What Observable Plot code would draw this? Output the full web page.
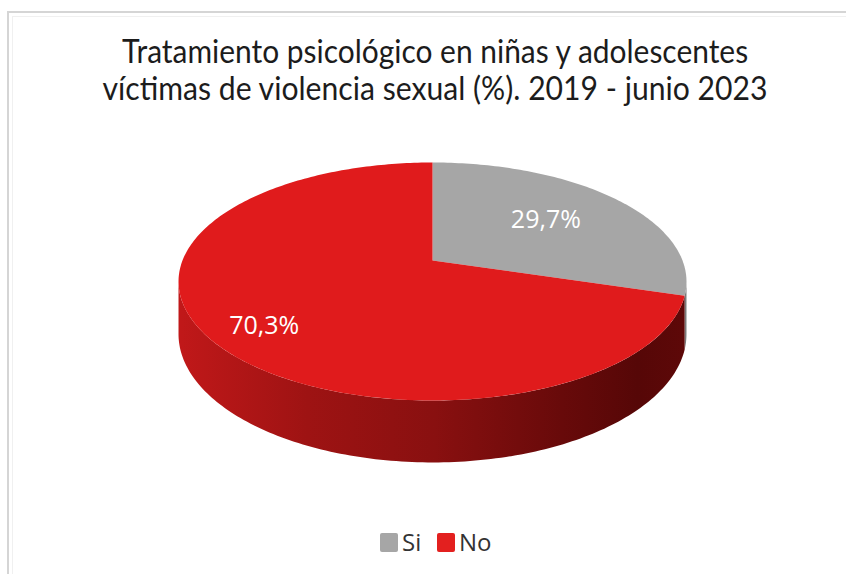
<!DOCTYPE html>
<html>
<head>
<meta charset="utf-8">
<script src="https://cdn.jsdelivr.net/npm/d3@7"></script>
<script src="https://cdn.jsdelivr.net/npm/@observablehq/plot@0.6"></script>
<style>
  html, body { margin: 0; padding: 0; background: #ffffff; width: 846px; height: 574px; overflow: hidden; }
  #frame { position: absolute; left: 7px; top: 11px; width: 900px; height: 700px;
           border-left: 2px solid #d5d5d5; border-top: 2px solid #d5d5d5; }
  #frame2 { position: absolute; left: 12px; top: 16px; width: 900px; height: 700px;
           border-left: 1px solid #f0f0f0; border-top: 1px solid #f0f0f0; }
  #title { position: absolute; left: 12px; top: 32px; width: 846px; text-align: center;
           font-family: Lato, "Open Sans", sans-serif; font-size: 33px; line-height: 37px; color: #1c1c1c; }
  #title span { display: inline-block; white-space: nowrap; transform-origin: center; }
  #chart { position: absolute; left: 0; top: 130px; }
  #legend { position: absolute; left: 0; top: 528px; width: 846px; height: 30px;
            font-family: "Open Sans", sans-serif; font-size: 24px; color: #333; }
  .item { position: absolute; top: 0; height: 30px; line-height: 30px; white-space: nowrap; }
  .sw { position: absolute; top: 5px; width: 18px; height: 19px; border-radius: 2px; }
  .lb { position: absolute; top: -1px; }
</style>
</head>
<body>
<div id="frame"></div>
<div id="frame2"></div>
<div id="title"><span id="t1">Tratamiento psicológico en niñas y adolescentes</span><br><span id="t2">víctimas de violencia sexual (%). 2019 - junio 2023</span></div>
<div id="chart"></div>
<div id="legend"></div>
<script>
// ---- data ----
const categories = ["Si", "No"];
const values = [29.7, 70.3];
const labels = ["29,7%", "70,3%"];
const topColors = ["#a6a6a6", "#e01b1c"];
const sideFills = ["#7a7a7a", "url(#sideRed)"];
const legendColors = ["#a6a6a6", "#e3201f"];

// ---- layout ----
const W = 846, H = 350, svgTop = 130;
const CX = 432, K = 250, A = -69.4, B = 260, C = 0.1765, DEPTH = 51;
const labelR = [0.6, 0.77];

function proj(angDeg, r, z) {
  const t = angDeg * Math.PI / 180;
  const u = r * Math.sin(t), v = r * Math.cos(t);
  const w = 1 + C * v;
  return {x: CX + K * u / w, y: (A * v + B) / w - svgTop + z * DEPTH / w};
}

const ext = Math.asin(C) * 180 / Math.PI;
const visA = 90 + ext, visB = 270 - ext;

// slices
let start = 0;
const slices = categories.map((c, i) => {
  const s = start, e = start + values[i] / 100 * 360;
  start = e;
  return {cat: c, s, e, i};
});

function arc(a1, a2, z) {
  const pts = [];
  const n = Math.max(2, Math.ceil(Math.abs(a2 - a1)));
  for (let k = 0; k <= n; k++) pts.push(proj(a1 + (a2 - a1) * k / n, 1, z));
  return pts;
}

const marks = [];
// side faces
slices.forEach(sl => {
  const a1 = Math.max(sl.s, visA), a2 = Math.min(sl.e, visB);
  if (a1 < a2) {
    const pts = arc(a1, a2, 0).concat(arc(a2, a1, 1));
    marks.push(Plot.line(pts, {x: "x", y: "y", fill: sideFills[sl.i], stroke: "none", curve: "linear"}));
  }
});
// top faces
slices.forEach(sl => {
  const pts = [proj(0, 0, 0)].concat(arc(sl.s, sl.e, 0));
  marks.push(Plot.line(pts, {x: "x", y: "y", fill: topColors[sl.i], stroke: "none", curve: "linear"}));
});
// labels
const labelRows = slices.map(sl => {
  const p = proj((sl.s + sl.e) / 2, labelR[sl.i], 0);
  return {x: p.x, y: p.y + (sl.i === 1 ? 8 : -2), text: labels[sl.i]};
});
marks.push(Plot.text(labelRows, {x: "x", y: "y", text: "text", fill: "white",
  fontSize: 25, fontFamily: "Open Sans, sans-serif", textAnchor: "middle"}));

const svg = Plot.plot({
  width: W, height: H, margin: 0,
  x: {domain: [0, W], range: [0, W], axis: null},
  y: {domain: [0, H], range: [0, H], axis: null},
  style: {background: "transparent", overflow: "visible"},
  marks
});

const defs = d3.select(svg).insert("defs", ":first-child");
const g = defs.append("linearGradient").attr("id", "sideRed")
  .attr("gradientUnits", "userSpaceOnUse")
  .attr("x1", 180).attr("x2", 688).attr("y1", 0).attr("y2", 0);
[[0, "#c01819"], [0.25, "#9e1313"], [0.5, "#891010"], [0.75, "#680a0a"], [0.9, "#560707"], [1, "#5e0808"]]
  .forEach(([o, c]) => g.append("stop").attr("offset", o).attr("stop-color", c));
document.getElementById("chart").appendChild(svg);

// legend
const leg = document.getElementById("legend");
const legX = [380, 437];
categories.forEach((c, i) => {
  const it = document.createElement("div");
  it.className = "item";
  it.style.left = legX[i] + "px";
  it.innerHTML = `<div class="sw" style="left:0;background:${legendColors[i]}"></div><span class="lb" style="left:22px">${c}</span>`;
  leg.appendChild(it);
});

// fit title widths
const targets = {t1: 626, t2: 665};
for (const id in targets) {
  const el = document.getElementById(id);
  const w = el.getBoundingClientRect().width;
  el.style.transform = `scaleX(${targets[id] / w})`;
}
</script>
</body>
</html>
